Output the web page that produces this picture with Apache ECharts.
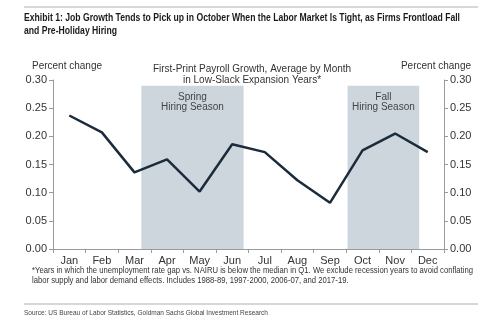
<!DOCTYPE html>
<html><head><meta charset="utf-8">
<script src="https://cdn.jsdelivr.net/npm/echarts@6/dist/echarts.min.js"></script>
<style>html,body{margin:0;padding:0;background:#fff}#c{width:500px;height:321px}</style>
</head><body><div id="c"></div>
<script>
const months = ['Jan','Feb','Mar','Apr','May','Jun','Jul','Aug','Sep','Oct','Nov','Dec'];
const payrollGrowth = [0.237, 0.207, 0.136, 0.159, 0.102, 0.186, 0.172, 0.122, 0.082, 0.175, 0.205, 0.172];
const yTicks = [0, 0.05, 0.10, 0.15, 0.20, 0.25, 0.30];
const springSeason = {label: 'Spring\nHiring Season', from: 2.71, to: 5.85, top: 0.29};
const fallSeason = {label: 'Fall\nHiring Season', from: 9.04, to: 11.24, top: 0.29};
const titleLines = ['Exhibit 1: Job Growth Tends to Pick up in October When the Labor Market Is Tight, as Firms Frontload Fall', 'and Pre-Holiday Hiring'];
const noteLines = ['*Years in which the unemployment rate gap vs. NAIRU is below the median in Q1. We exclude recession years to avoid conflating', 'labor supply and labor demand effects. Includes 1988-89, 1997-2000, 2006-07, and 2017-19.'];
const sourceText = 'Source: US Bureau of Labor Statistics, Goldman Sachs Global Investment Research';

const ctx = document.createElement('canvas').getContext('2d');
function widthOf(font, s){ ctx.font = font; return ctx.measureText(s).width; }

const titleFont = 'bold 11.5px "Liberation Sans"';
const titleScale = 436 / widthOf(titleFont, titleLines[0]);
const noteFont = '8.6px "Liberation Sans"';
const noteScale = 441 / widthOf(noteFont, noteLines[0]);
const srcFont = '8px "Liberation Sans"';
const srcScale = 244 / widthOf(srcFont, sourceText);

const chart = echarts.init(document.getElementById('c'));
const txt = '#333';
const axisCol = '#9a9a9a';
const shade = {color: '#cdd6dd'};
function season(s){
  return [{xAxis: s.from, yAxis: 0, name: s.label}, {xAxis: s.to, yAxis: s.top}];
}
chart.setOption({
  animation: false,
  grid: {left: 53, right: 56, top: 80, bottom: 72},
  xAxis: [{
    type: 'category', data: months, boundaryGap: true,
    axisLine: {lineStyle: {color: axisCol}},
    axisTick: {show: true, length: 4, lineStyle: {color: axisCol}},
    axisLabel: {color: txt, fontFamily: 'Liberation Sans', fontSize: 11, margin: 6}
  },{
    type: 'value', min: 0, max: 12, show: false
  }],
  yAxis: [{
    type: 'value', min: yTicks[0], max: yTicks[yTicks.length-1], interval: 0.05,
    splitLine: {show: false},
    axisLine: {show: true, lineStyle: {color: axisCol}},
    axisTick: {show: true, length: 4, lineStyle: {color: axisCol}},
    axisLabel: {color: txt, fontFamily: 'Liberation Sans', fontSize: 11, margin: 6, formatter: v => v.toFixed(2)}
  },{
    type: 'value', min: yTicks[0], max: yTicks[yTicks.length-1], interval: 0.05, position: 'right',
    splitLine: {show: false},
    axisLine: {show: true, lineStyle: {color: axisCol}},
    axisTick: {show: true, length: 4, lineStyle: {color: axisCol}},
    axisLabel: {color: txt, fontFamily: 'Liberation Sans', fontSize: 11, margin: 6, formatter: v => v.toFixed(2)}
  }],
  series: [{
    type: 'line', xAxisIndex: 1, yAxisIndex: 0, data: [], silent: true,
    markArea: {
      silent: true,
      itemStyle: shade,
      label: {show: true, position: 'insideTop', color: '#444', fontFamily: 'Liberation Sans', fontSize: 10, lineHeight: 10.5, distance: 6},
      data: [season(springSeason), season(fallSeason)]
    }
  },{
    type: 'line', xAxisIndex: 0, yAxisIndex: 0, data: payrollGrowth,
    symbol: 'none', lineStyle: {color: '#1c2b3c', width: 2.5}, z: 5
  }],
  graphic: [
    {type: 'line', shape: {x1: 24, y1: 7, x2: 478, y2: 7}, style: {stroke: '#b0b0b0', lineWidth: 1}},
    {type: 'text', x: 24, y: 11, scaleX: titleScale, style: {text: titleLines.join('\n'), fill: '#1a1a1a', font: titleFont, lineHeight: 13.5}},
    {type: 'text', x: 32, y: 61, style: {text: 'Percent change', fill: txt, font: '10px "Liberation Sans"'}},
    {type: 'text', x: 471, y: 61, style: {text: 'Percent change', fill: txt, font: '10px "Liberation Sans"', align: 'right'}},
    {type: 'text', x: 252, y: 64, style: {text: 'First-Print Payroll Growth, Average by Month\nin Low-Slack Expansion Years*', fill: txt, font: '10px "Liberation Sans"', align: 'center', lineHeight: 11}},
    {type: 'text', x: 32, y: 266, scaleX: noteScale, style: {text: noteLines.join('\n'), fill: txt, font: noteFont, lineHeight: 10}},
    {type: 'line', shape: {x1: 24, y1: 304, x2: 478, y2: 304}, style: {stroke: '#b0b0b0', lineWidth: 1}},
    {type: 'text', x: 24, y: 309, scaleX: srcScale, style: {text: sourceText, fill: '#444', font: srcFont}}
  ]
});
</script></body></html>
